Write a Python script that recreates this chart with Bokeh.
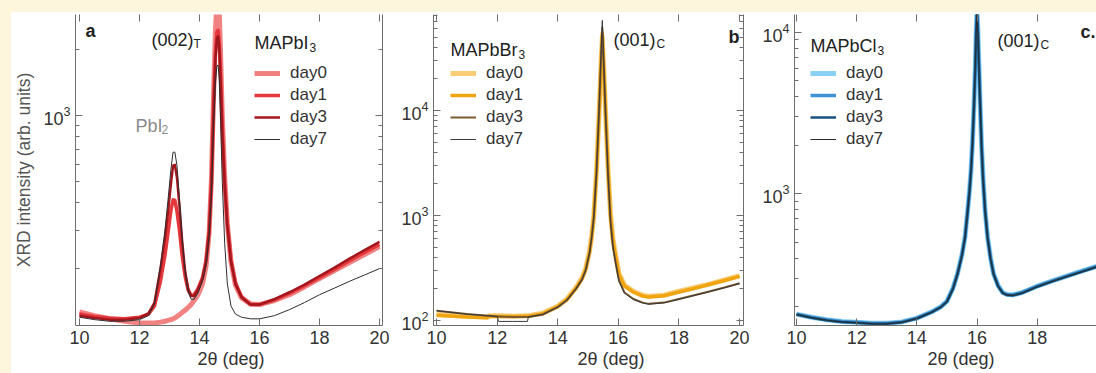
import math
from bokeh.plotting import figure
from bokeh.models import (Range1d, FixedTicker, LinearAxis, LogAxis, Label, Legend, LegendItem,
                          Spacer, CustomJSTickFormatter, Title)
from bokeh.layouts import row, column
from bokeh.embed import file_html
from bokeh.resources import INLINE

FONT = "Liberation Sans"
YELLOW = "#fdf5dc"
AXC = "#6e6e6e"

# ---------------- data ----------------
days = ["day0", "day1", "day3", "day7"]
x_ticks = [10, 12, 14, 16, 18, 20]

# panel a : MAPbI3
x_a = [10.0, 10.5, 11.0, 11.5, 12.0, 12.3, 12.5, 12.7, 12.85, 12.95, 13.05, 13.12, 13.18, 13.25,
       13.33, 13.42, 13.52, 13.62, 13.72, 13.82, 13.95, 14.1, 14.22, 14.32, 14.4, 14.47, 14.53,
       14.58, 14.62, 14.66, 14.7, 14.76, 14.84, 14.93, 15.05, 15.2, 15.4, 15.7, 16.0, 16.5, 17.0,
       17.5, 18.0, 18.5, 19.0, 19.5, 20.0]
a_day0 = [127, 122, 118, 115, 113, 113, 113, 114, 115, 116, 117, 118, 119, 121,
          123, 126, 129, 133, 137, 143, 152, 170, 205, 290, 520, 1250, 2400,
          3300, 3400, 2900, 2000, 1000, 520, 320, 215, 168, 147, 138, 137, 143, 152,
          165, 180, 196, 213, 232, 252]
a_day1 = [124, 121, 119, 118, 120, 124, 135, 175, 230, 290, 370, 412, 410, 365,
          300, 230, 185, 160, 151, 152, 162, 182, 218, 295, 500, 1100, 1900,
          2400, 2450, 2150, 1600, 900, 500, 320, 220, 172, 149, 137, 137, 144, 154,
          167, 182, 198, 217, 237, 258]
a_day3 = [122, 119, 117, 117, 119, 125, 140, 200, 275, 360, 490, 590, 595, 520,
          390, 270, 195, 162, 150, 150, 160, 180, 215, 290, 480, 1050, 1800,
          2250, 2300, 2050, 1500, 850, 480, 310, 215, 170, 148, 137, 137, 145, 156,
          169, 185, 202, 222, 243, 265]
a_day7 = [120, 117, 115, 115, 117, 122, 138, 205, 300, 410, 570, 680, 680, 590,
          420, 280, 195, 158, 145, 145, 155, 175, 208, 280, 440, 900, 1400,
          1680, 1700, 1450, 1000, 500, 260, 170, 135, 124, 120, 118, 118, 122, 130,
          140, 152, 163, 175, 187, 200]

# panel b : MAPbBr3
x_b = [10.0, 11.0, 11.68, 11.72, 12.0, 12.05, 12.5, 13.0, 13.03, 13.5, 14.0, 14.3, 14.6, 14.8,
       14.92, 15.05, 15.12, 15.19, 15.28, 15.36, 15.42, 15.47, 15.52, 15.58, 15.66, 15.74, 15.82,
       15.9, 16.02, 16.2, 16.5, 16.8, 17.0, 17.5, 18.0, 18.5, 19.0, 19.5, 20.0]
b_day0 = [114, 110, 108, 111, 111, 111, 110, 111, 111, 117, 137, 160, 205, 255,
          310, 460, 640, 1000, 2700, 9000, 24000, 50000, 24000, 9500, 2800, 1050, 600,
          440, 280, 218, 190, 174, 170, 174, 190, 205, 222, 243, 268]
b_day1 = [112, 108, 106, 109, 109, 109, 109, 110, 110, 116, 136, 158, 202, 250,
          305, 450, 630, 980, 2650, 9000, 25000, 55000, 25000, 9300, 2700, 1000, 580,
          425, 272, 213, 186, 171, 167, 172, 187, 202, 220, 240, 263]
b_day3 = [124, 115, 111, 111, 109, 109, 108, 108, 108, 114, 134, 156, 200, 245,
          300, 440, 620, 960, 2600, 9200, 27000, 62000, 26000, 9000, 2500, 900, 510,
          370, 240, 185, 160, 148, 144, 148, 160, 174, 189, 206, 226]
b_day7 = [124, 115, 111, 111, 109, 98, 98, 98, 108, 114, 134, 156, 200, 245,
          300, 440, 620, 960, 2600, 9500, 30000, 72000, 28000, 9000, 2450, 880, 500,
          365, 237, 183, 158, 147, 143, 147, 159, 173, 188, 205, 224]

# panel c : MAPbCl3
x_c = [10.0, 10.5, 11.0, 11.5, 12.0, 12.5, 13.0, 13.5, 14.0, 14.5, 14.8, 15.0, 15.2, 15.35,
       15.5, 15.6, 15.68, 15.75, 15.8, 15.85, 15.9, 15.94, 15.97, 16.0, 16.03, 16.06, 16.1,
       16.15, 16.2, 16.27, 16.35, 16.45, 16.55, 16.7, 16.85, 17.0, 17.2, 17.5, 18.0, 18.5,
       19.0, 19.5, 20.0]
c_day0 = [180, 172, 166, 162, 160, 158, 158, 161, 170, 186, 200, 216, 260, 320,
          420, 540, 760, 1050, 1400, 2100, 3600, 6000, 10000, 14000, 10000, 6500, 3800,
          2000, 1250, 780, 540, 400, 320, 270, 245, 238, 237, 245, 268, 289,
          310, 333, 357]
c_day1 = [180, 172, 166, 162, 160, 158, 158, 161, 170, 186, 200, 216, 260, 320,
          420, 540, 760, 1050, 1400, 2100, 3600, 6000, 10000, 14000, 10000, 6500, 3800,
          2000, 1250, 780, 540, 400, 320, 270, 245, 238, 237, 245, 268, 289,
          310, 333, 357]
c_day3 = [179, 171, 165, 161, 159, 157, 157, 160, 169, 185, 199, 215, 258, 318,
          417, 535, 750, 1040, 1390, 2080, 3550, 5900, 9800, 13500, 9800, 6400, 3750,
          1980, 1240, 775, 535, 397, 318, 268, 243, 236, 235, 243, 266, 287,
          308, 330, 354]
c_day7 = [179, 171, 165, 161, 159, 157, 157, 160, 169, 185, 199, 215, 258, 318,
          417, 535, 750, 1040, 1390, 2080, 3550, 5900, 9800, 13500, 9800, 6400, 3750,
          1980, 1240, 775, 535, 397, 318, 268, 243, 236, 235, 243, 266, 287,
          308, 330, 354]

# ---------------- styling ----------------
FRAME_BOTTOM = 325   # page pixel row of the x axes
LIFT = 8             # correction of the label baseline


def style_axis(ax, labels=True):
    ax.axis_line_color = AXC
    ax.major_tick_line_color = AXC
    ax.minor_tick_line_color = AXC
    ax.major_tick_in = 7
    ax.major_tick_out = 0
    ax.minor_tick_in = 4
    ax.minor_tick_out = 0
    ax.major_label_text_font = FONT
    ax.major_label_text_color = "#333333"
    if labels:
        ax.major_label_text_font_size = "18px"
        ax.major_label_standoff = 5
    else:
        ax.formatter = CustomJSTickFormatter(code="return ''")
        ax.major_label_text_font_size = "1px"
        ax.major_label_text_alpha = 0
        ax.major_label_standoff = 0


def txt(p, frame_left, x_pg, base_pg, text, size="18px", color="#222222", style="normal"):
    p.add_layout(Label(x=x_pg - frame_left, y=FRAME_BOTTOM - base_pg + LIFT,
                       x_units="screen", y_units="screen", text=text,
                       text_font=FONT, text_font_size=size, text_color=color,
                       text_font_style=style, text_align="left",
                       text_baseline="alphabetic"))


def panel(width, bl, br, xr, yr, major, minor, xs, series, colors, widths,
          xlabel_offset, right_axis=True, ylabel=None):
    p = figure(width=width, height=361, x_range=Range1d(*xr), y_range=Range1d(*yr),
               y_axis_type="log", output_backend="svg", toolbar_location=None,
               min_border_left=bl, min_border_right=br, min_border_top=2,
               min_border_bottom=48)
    p.background_fill_color = "white"
    p.border_fill_color = "white"
    p.outline_line_color = None
    p.xgrid.visible = False
    p.ygrid.visible = False

    p.xaxis[0].ticker = FixedTicker(ticks=x_ticks, minor_ticks=[])
    p.yaxis[0].ticker = FixedTicker(ticks=major, minor_ticks=minor)
    style_axis(p.xaxis[0])
    style_axis(p.yaxis[0])
    if ylabel:
        ya = p.yaxis[0]
        ya.axis_label = ylabel
        ya.axis_label_text_font = FONT
        ya.axis_label_text_font_size = "17.5px"
        ya.axis_label_text_font_style = "normal"
        ya.axis_label_text_color = "#555555"
        ya.axis_label_standoff = 6

    p.add_layout(Title(text="2\u03b8 (deg)", align="left", offset=xlabel_offset,
                       text_font=FONT, text_font_size="18px", text_font_style="normal",
                       text_color="#333333", standoff=0), "below")

    top = LinearAxis(ticker=FixedTicker(ticks=x_ticks, minor_ticks=[]))
    style_axis(top, labels=False)
    top.axis_line_color = None
    p.add_layout(top, "above")
    if right_axis:
        r = LogAxis(ticker=FixedTicker(ticks=major, minor_ticks=minor))
        style_axis(r, labels=False)
        p.add_layout(r, "right")

    items = []
    for name, ys, c, w in zip(days, series, colors, widths):
        rr = p.line(xs, ys, line_color=c, line_width=w, line_join="round")
        items.append(LegendItem(label=name, renderers=[rr]))
    return p, items


def legend(p, items, vx):
    lg = Legend(items=items, location=(vx, 176), label_text_font=FONT,
                label_text_font_size="17px", label_text_color="#333333",
                glyph_width=26, glyph_height=20, label_height=20, label_standoff=10,
                spacing=2, padding=0, margin=0, border_line_color=None,
                background_fill_alpha=0)
    p.add_layout(lg)


# ---------- panel a ----------
pa, ia = panel(382, 62, 11, (9.868, 20.1), (110, 2890), [1000],
               [200, 300, 400, 500, 600, 700, 800, 900, 2000],
               x_a, [a_day0, a_day1, a_day3, a_day7],
               ["#f08282", "#e5383c", "#a3161d", "#2e2e2e"], [5, 3.5, 2.5, 1],
               xlabel_offset=122, ylabel="XRD intensity (arb. units)")
legend(pa, ia, 179)
FLa = 73
txt(pa, FLa, 83, 38, "a", style="bold")
txt(pa, FLa, 149, 47, "(002)")
txt(pa, FLa, 191, 51, "T", size="12px")
txt(pa, FLa, 252, 50, "MAPbI")
txt(pa, FLa, 307, 55, "3", size="12px")
txt(pa, FLa, 133, 133, "PbI", color="#8a8a8a")
txt(pa, FLa, 159, 137, "2", size="12px", color="#8a8a8a")

# ---------- panel b ----------
pb, ib = panel(357, 40, 7, (9.90, 20.13), (89.6, 82000), [100, 1000, 10000],
               [200, 300, 400, 500, 600, 700, 800, 900,
                2000, 3000, 4000, 5000, 6000, 7000, 8000, 9000,
                20000, 30000, 40000, 50000, 60000, 70000, 80000],
               x_b, [b_day0, b_day1, b_day3, b_day7],
               ["#f9cd78", "#f0a510", "#7c5a2e", "#3a3a3a"], [5, 3.5, 2, 1],
               xlabel_offset=144)
legend(pb, ib, 17)
FLb = 433
txt(pb, FLb, 450, 57, "MAPbBr")
txt(pb, FLb, 518, 62, "3", size="12px")
txt(pb, FLb, 613, 47, "(001)")
txt(pb, FLb, 656, 51, "C", size="12px")
txt(pb, FLb, 728, 44, "b", style="bold")

# ---------- panel c ----------
pc, ic = panel(346, 44, 0, (9.934, 19.97), (153, 12900), [1000, 10000],
               [200, 300, 400, 500, 600, 700, 800, 900,
                2000, 3000, 4000, 5000, 6000, 7000, 8000, 9000],
               x_c, [c_day0, c_day1, c_day3, c_day7],
               ["#8ad0f2", "#3f93d3", "#15527f", "#2a2a2a"], [5, 3.5, 2.5, 1],
               xlabel_offset=133, right_axis=False)
legend(pc, ic, 16)
FLc = 794
txt(pc, FLc, 810, 53, "MAPbCl")
txt(pc, FLc, 877, 58, "3", size="12px")
txt(pc, FLc, 997, 48, "(001)")
txt(pc, FLc, 1040, 52, "C", size="12px")
txt(pc, FLc, 1080, 39, "c.", style="bold")

top_band = Spacer(width=1096, height=12, styles={"background-color": YELLOW})
left_band = Spacer(width=11, height=361, styles={"background-color": YELLOW})
layout = column(top_band, row(left_band, pa, pb, pc))

open("out.html", "w").write(file_html(layout, INLINE))
